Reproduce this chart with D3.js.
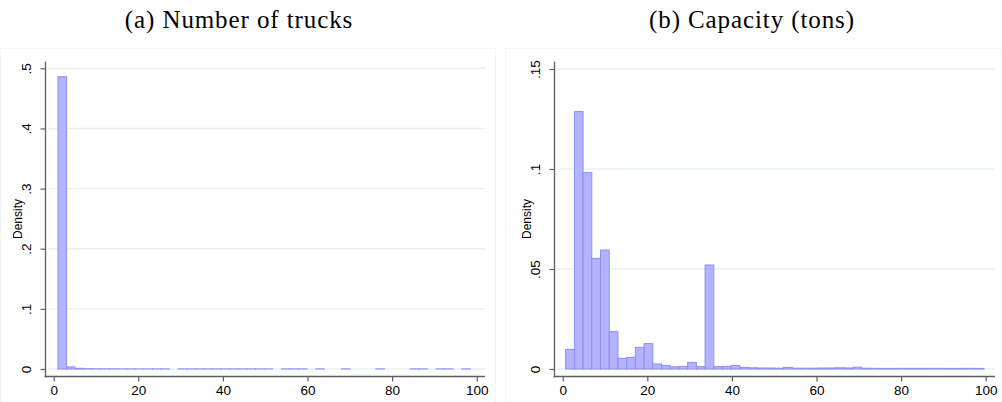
<!DOCTYPE html>
<html>
<head>
<meta charset="utf-8">
<script src="https://cdn.jsdelivr.net/npm/d3@7"></script>
<style>
  html, body { margin: 0; padding: 0; background: #fff; }
  svg { display: block; }
</style>
</head>
<body>
<svg id="chart" width="1002" height="402"></svg>
<script>
// Histogram (a): number of trucks per firm, 48 bins starting at 1
const trucksBinStart = 1;
const trucksBinWidth = 2.03125;
const trucksDensity = [
  0.486, 0.0035, 0.0012, 0.0006, 0.0004, 0.0003, 0.0003, 0.0002, 0.0002, 0.0002,
  0.0002, 0.0002, 0.0002, 0, 0.0002, 0.0002, 0.0002, 0.0002, 0.0002, 0.0002,
  0.0002, 0.0002, 0.0002, 0.0002, 0.0002, 0, 0.0002, 0.0002, 0.0002, 0,
  0.0002, 0, 0, 0.0002, 0, 0, 0, 0.0002, 0, 0,
  0, 0.0002, 0.0002, 0, 0.0002, 0.0002, 0, 0.0002
];
const trucksYTicks = [0, 0.1, 0.2, 0.3, 0.4, 0.5];
const trucksYLabels = ["0", ".1", ".2", ".3", ".4", ".5"];

// Histogram (b): capacity in tons, 48 bins starting at 0.7
const capBinStart = 0.7;
const capBinWidth = 2.06;
const capDensity = [
  0.0098, 0.1287, 0.0982, 0.0553, 0.0595, 0.0187, 0.0053, 0.0058, 0.0108, 0.0127,
  0.0025, 0.0018, 0.0011, 0.0013, 0.0033, 0.0012, 0.0520, 0.0012, 0.0013, 0.0017,
  0.0008, 0.0006, 0.0005, 0.0005, 0.0004, 0.0008, 0.0004, 0.0004, 0.0004, 0.0005,
  0.0005, 0.0006, 0.0005, 0.0009, 0.0004, 0.0003, 0.0003, 0.0003, 0.0003, 0.0003,
  0.0003, 0.0003, 0.0003, 0.0003, 0.0003, 0.0003, 0.0003, 0.0003
];
const capYTicks = [0, 0.05, 0.1, 0.15];
const capYLabels = ["0", ".05", ".1", ".15"];

const xTicks = [0, 20, 40, 60, 80, 100];
const titles = ["(a) Number of trucks", "(b) Capacity (tons)"];
const yTitle = "Density";

const svg = d3.select("#chart");

const barFill = "#b3b3ff";
const barStroke = "#8e8ef8";
const gridColor = "#eaf0f0";
const axisColor = "#5e5e5e";
const tickFont = "Liberation Sans, Arial, sans-serif";

function panel(cfg) {
  const g = svg.append("g");

  // faint outer frame of the graph region
  g.append("rect")
    .attr("x", cfg.frame[0] + 0.5).attr("y", 48.5)
    .attr("width", cfg.frame[1] - cfg.frame[0]).attr("height", 360)
    .attr("fill", "none").attr("stroke", "#f5f7f7");

  const x = d3.scaleLinear().domain([0, 100]).range(cfg.xRange);
  const y = d3.scaleLinear().domain([0, cfg.yMax]).range([369, cfg.yTop]);

  // horizontal gridlines
  g.append("g").selectAll("line").data(cfg.yTicks).join("line")
    .attr("x1", cfg.plotLeft + 2).attr("x2", cfg.plotRight)
    .attr("y1", d => y(d)).attr("y2", d => y(d))
    .attr("stroke", gridColor).attr("stroke-width", 1.4);

  // bars
  const bins = cfg.density.map((v, i) => ({
    x0: cfg.start + i * cfg.width,
    x1: cfg.start + (i + 1) * cfg.width,
    v
  })).filter(d => d.v > 0);

  g.append("g").selectAll("rect").data(bins).join("rect")
    .attr("x", d => x(d.x0))
    .attr("width", d => x(d.x1) - x(d.x0))
    .attr("y", d => y(d.v))
    .attr("height", d => y(0) - y(d.v))
    .attr("fill", barFill)
    .attr("stroke", barStroke)
    .attr("stroke-width", 1);

  // x axis
  const xAxis = d3.axisBottom(x).tickValues(xTicks).tickSize(5).tickPadding(4)
    .tickFormat(d3.format("d"));
  const gx = g.append("g").attr("transform", "translate(0,376.5)").call(xAxis);
  gx.select(".domain").remove();
  gx.append("line").attr("x1", cfg.plotLeft - 1).attr("x2", cfg.plotRight)
    .attr("y1", 0).attr("y2", 0).attr("stroke", axisColor).attr("stroke-width", 1.3);
  gx.selectAll(".tick line").attr("stroke", axisColor).attr("stroke-width", 1.2);
  gx.selectAll(".tick text").attr("fill", "#000")
    .style("font-family", tickFont).style("font-size", "13.5px");

  // y axis with rotated labels
  const yAxis = d3.axisLeft(y).tickValues(cfg.yTicks).tickSize(5).tickPadding(0)
    .tickFormat((d, i) => cfg.yLabels[i]);
  const gy = g.append("g").attr("transform", `translate(${cfg.plotLeft},0)`).call(yAxis);
  gy.select(".domain").remove();
  gy.append("line").attr("x1", 0).attr("x2", 0)
    .attr("y1", 61.5).attr("y2", 377.2).attr("stroke", axisColor).attr("stroke-width", 1.3);
  gy.selectAll(".tick line").attr("stroke", axisColor).attr("stroke-width", 1.2);
  gy.selectAll(".tick text")
    .attr("x", 0).attr("dy", null)
    .attr("transform", "translate(-15,0) rotate(-90)")
    .attr("text-anchor", "middle")
    .attr("fill", "#000")
    .style("font-family", tickFont).style("font-size", "13.5px");

  // y axis title
  g.append("text")
    .attr("transform", `translate(${cfg.plotLeft - 24},${(61 + 377) / 2}) rotate(-90)`)
    .attr("text-anchor", "middle")
    .style("font-family", tickFont).style("font-size", "12px")
    .text(yTitle);

  // panel title
  g.append("text")
    .attr("x", cfg.titleX).attr("y", 28)
    .attr("text-anchor", "middle")
    .style("font-family", "Liberation Serif, Times New Roman, serif")
    .style("font-size", "25px")
    .style("letter-spacing", "0.9px")
    .text(cfg.title);
}

panel({
  frame: [0, 495], xRange: [53.7, 476.7], plotLeft: 45.5, plotRight: 485,
  yMax: 0.5, yTop: 68.3, yTicks: trucksYTicks, yLabels: trucksYLabels,
  start: trucksBinStart, width: trucksBinWidth, density: trucksDensity,
  title: titles[0], titleX: 239
});

panel({
  frame: [505, 1001], xRange: [562.7, 985.7], plotLeft: 554.5, plotRight: 995,
  yMax: 0.15, yTop: 69, yTicks: capYTicks, yLabels: capYLabels,
  start: capBinStart, width: capBinWidth, density: capDensity,
  title: titles[1], titleX: 752
});
</script>
</body>
</html>
